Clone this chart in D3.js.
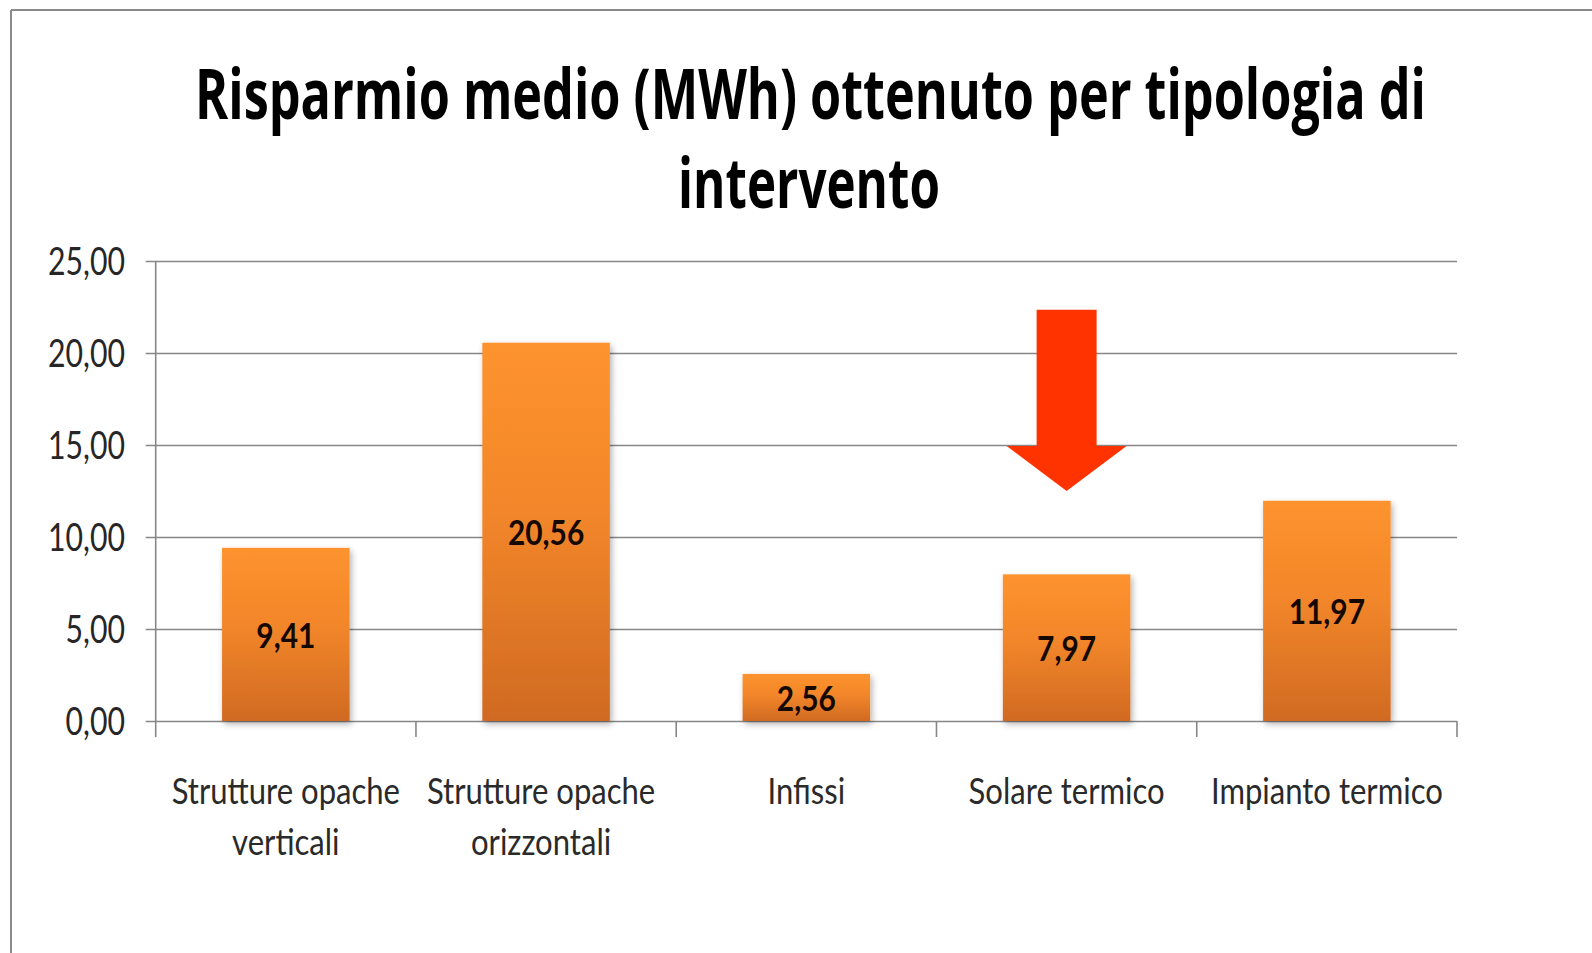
<!DOCTYPE html>
<html>
<head>
<meta charset="utf-8">
<script src="https://cdn.jsdelivr.net/npm/d3@7"></script>
<style>
  html, body { margin: 0; padding: 0; background: #ffffff; }
  svg { display: block; }
</style>
</head>
<body>
<svg id="chart" width="1592" height="953"></svg>
<script>
// ---- data ----
const categories = [
  ["Strutture opache", "verticali"],
  ["Strutture opache", "orizzontali"],
  ["Infissi"],
  ["Solare termico"],
  ["Impianto termico"]
];
const values = [9.41, 20.56, 2.56, 7.97, 11.97];
const valueLabels = ["9,41", "20,56", "2,56", "7,97", "11,97"];
const yTicks = [0, 5, 10, 15, 20, 25];
const yTickLabels = ["0,00", "5,00", "10,00", "15,00", "20,00", "25,00"];
const titleLines = ["Risparmio medio (MWh) ottenuto per tipologia di", "intervento"];
// arrow annotation (in data units) pointing at "Solare termico"
const arrowCategory = 3;
const arrowTop = 22.35, arrowHeadBase = 14.95, arrowTip = 12.5;

// ---- layout ----
const svg = d3.select("#chart");
const pL = 155.7, pR = 1457, pT = 261, pB = 721;
const bodyFont = "Lato, 'Open Sans', 'Liberation Sans', sans-serif";

const idx = d3.range(values.length);
const x = d3.scaleBand().domain(idx).range([pL, pR]).paddingInner(0.51).paddingOuter(0.255);
const y = d3.scaleLinear().domain([0, 25]).range([pB, pT]);

// horizontally condense a text selection about its anchor x so that a sample text gets a target width
function condense(sel, sampleNode, target) {
  const k = target / sampleNode.getComputedTextLength();
  sel.each(function () {
    const ax = +this.getAttribute("x") || 0;
    this.setAttribute("transform", `translate(${ax},0) scale(${k},1) translate(${-ax},0)`);
  });
}

// defs
const defs = svg.append("defs");
const grad = defs.append("linearGradient").attr("id", "barGrad")
  .attr("x1", 0).attr("y1", 0).attr("x2", 0).attr("y2", 1);
grad.append("stop").attr("offset", "0%").attr("stop-color", "#fd932e");
grad.append("stop").attr("offset", "45%").attr("stop-color", "#f2862a");
grad.append("stop").attr("offset", "100%").attr("stop-color", "#d06a22");
const filt = defs.append("filter").attr("id", "shadow")
  .attr("x", "-10%").attr("y", "-10%").attr("width", "130%").attr("height", "130%");
filt.append("feDropShadow").attr("dx", 2).attr("dy", 3).attr("stdDeviation", 3)
  .attr("flood-color", "#000").attr("flood-opacity", 0.3);

// frame
svg.append("line").attr("x1", 11).attr("y1", 10).attr("x2", 1592).attr("y2", 10)
  .attr("stroke", "#8a8a8a").attr("stroke-width", 2);
svg.append("line").attr("x1", 11).attr("y1", 10).attr("x2", 11).attr("y2", 953)
  .attr("stroke", "#8a8a8a").attr("stroke-width", 2);

// title
const titleSpec = [
  { text: titleLines[0], cx: 810.5, base: 119, len: 1231 },
  { text: titleLines[1], cx: 809, base: 208, len: 262 }
];
const titles = svg.selectAll("text.title").data(titleSpec).join("text")
  .attr("class", "title")
  .attr("x", d => d.cx).attr("y", d => d.base)
  .attr("text-anchor", "middle")
  .attr("font-family", "'Open Sans', 'Liberation Sans', sans-serif")
  .attr("font-weight", 700)
  .attr("font-size", 70)
  .attr("fill", "#000")
  .text(d => d.text);
titles.each(function (d) {
  const k = d.len / this.getComputedTextLength();
  this.setAttribute("transform", `translate(${d.cx},0) scale(${k},1) translate(${-d.cx},0)`);
});

// gridlines + y axis
const yAxis = d3.axisLeft(y).tickValues(yTicks)
  .tickSize(-(pR - pL))
  .tickPadding(22)
  .tickFormat((d, i) => yTickLabels[i]);
const gy = svg.append("g").attr("transform", `translate(${pL},0)`).call(yAxis);
gy.select(".domain").remove();
gy.selectAll(".tick line").attr("stroke", "#878787").attr("stroke-width", 1.6)
  .attr("x1", -10);
const tickTexts = gy.selectAll(".tick text")
  .attr("font-family", bodyFont).attr("font-size", 39).attr("fill", "#262626")
  .attr("x", -30.7).attr("dy", "0.35em");
condense(tickTexts, tickTexts.nodes()[yTicks.length - 1], 77);

// vertical axis line
svg.append("line").attr("x1", pL).attr("x2", pL).attr("y1", pT).attr("y2", pB + 16)
  .attr("stroke", "#878787").attr("stroke-width", 1.6);

// category boundary ticks
const step = x.step();
const bounds = d3.range(values.length + 1).map(i => pL + i * step);
svg.selectAll("line.ctick").data(bounds.slice(1)).join("line")
  .attr("class", "ctick")
  .attr("x1", d => d).attr("x2", d => d)
  .attr("y1", pB).attr("y2", pB + 16)
  .attr("stroke", "#878787").attr("stroke-width", 1.6);

// bars
svg.selectAll("rect.bar").data(idx).join("rect")
  .attr("class", "bar")
  .attr("x", i => x(i)).attr("width", x.bandwidth())
  .attr("y", i => y(values[i])).attr("height", i => y(0) - y(values[i]))
  .attr("fill", "url(#barGrad)")
  .attr("filter", "url(#shadow)");

// value labels
const vals = svg.selectAll("text.val").data(idx).join("text")
  .attr("class", "val")
  .attr("x", i => x(i) + x.bandwidth() / 2)
  .attr("y", i => (y(values[i]) + y(0)) / 2)
  .attr("dy", "0.38em")
  .attr("text-anchor", "middle")
  .attr("font-family", bodyFont).attr("font-weight", 700).attr("font-size", 35)
  .attr("fill", "#140800")
  .text(i => valueLabels[i]);
condense(vals, vals.nodes()[2], 59);

// category labels (one text element per line); second label nudged left as in the original layout
const labelNudge = i => (i === 1 ? -5 : 0);
const catLines = [];
idx.forEach(i => categories[i].forEach((t, j) => catLines.push({ t, i, j })));
const cats = svg.selectAll("text.cat").data(catLines).join("text")
  .attr("class", "cat")
  .attr("text-anchor", "middle")
  .attr("font-family", bodyFont).attr("font-size", 36)
  .attr("fill", "#2a2a2a")
  .attr("x", d => x(d.i) + x.bandwidth() / 2 + labelNudge(d.i))
  .attr("y", d => 804 + d.j * 51)
  .text(d => d.t);
condense(cats, cats.nodes()[catLines.findIndex(d => d.i === 3)], 196);

// arrow annotation
const ax = x(arrowCategory) + x.bandwidth() / 2;
const shaftHalf = 30, headHalf = 60;
const arrowPts = [
  [ax - shaftHalf, y(arrowTop)],
  [ax + shaftHalf, y(arrowTop)],
  [ax + shaftHalf, y(arrowHeadBase)],
  [ax + headHalf, y(arrowHeadBase)],
  [ax, y(arrowTip)],
  [ax - headHalf, y(arrowHeadBase)],
  [ax - shaftHalf, y(arrowHeadBase)]
];
svg.append("path").attr("d", d3.line()(arrowPts) + "Z").attr("fill", "#ff3300");
</script>
</body>
</html>
